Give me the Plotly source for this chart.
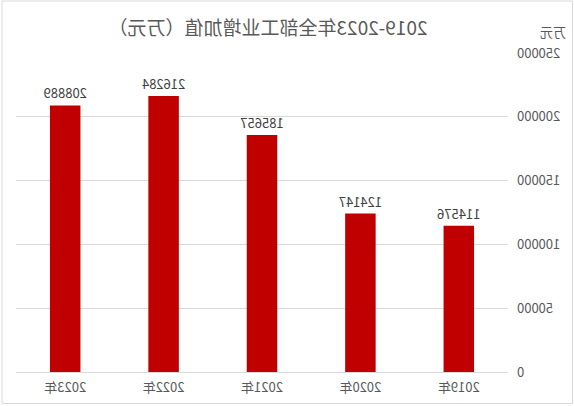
import plotly.graph_objects as go

categories = ["2019年", "2020年", "2021年", "2022年", "2023年"]
values = [114576, 124147, 185657, 216284, 208889]
title_text = "2019-2023年全部工业增加值（万元）"
unit_text = "万元"
tick_vals = [0, 50000, 100000, 150000, 200000, 250000]
tick_text = [str(v) for v in tick_vals]

W, H = 574, 406
L, R, T, B = 66, 16, 53, 34
pw, ph = W - L - R, H - T - B

def px(x):
    return (x - L) / pw

def py(y):
    return (H - B - y) / ph

font_family = "Noto Sans CJK SC, Noto Sans, sans-serif"

fig = go.Figure(go.Bar(
    x=categories, y=values,
    marker=dict(color="#C00000", line=dict(width=0)),
    text=[str(v) for v in values], textposition="outside",
    textfont=dict(size=13, color="#404040", family=font_family),
    constraintext="none",
    cliponaxis=False,
))

fig.update_layout(
    width=W, height=H,
    margin=dict(l=L, r=R, t=T, b=B),
    paper_bgcolor="white", plot_bgcolor="white",
    bargap=0.69,
    showlegend=False,
    font=dict(family=font_family, color="#595959"),
    title=dict(text=title_text, xref="container", x=306 / W, xanchor="center",
               y=1 - 28 / H, yanchor="middle",
               font=dict(size=19, color="#595959", family=font_family)),
    xaxis=dict(showgrid=False, showline=True, linecolor="#D9D9D9", linewidth=1,
               ticks="", tickfont=dict(size=13, color="#595959"), automargin=False,
               ticklabelstandoff=3),
    yaxis=dict(range=[0, 250000], tickvals=tick_vals, ticktext=tick_text,
               showgrid=True, gridcolor="#D9D9D9",
               gridwidth=1, zeroline=False, showline=False, ticks="",
               tickfont=dict(size=13, color="#595959"), ticklabelstandoff=8,
               automargin=False),
    annotations=[dict(text=unit_text, x=px(21), y=py(32), xref="paper", yref="paper",
                      showarrow=False, xanchor="center", yanchor="middle",
                      font=dict(size=13, color="#595959"))],
    shapes=[dict(type="rect", xref="paper", yref="paper",
                 x0=px(1.5), x1=px(572), y0=py(403.5), y1=py(1),
                 line=dict(color="#D9D9D9", width=1), layer="below")],
)

fig.write_html("out.html", config={"displayModeBar": False}, post_script=(
    "document.body.style.margin='0';"
    "var d=document.getElementById('{plot_id}');"
    "d.style.transform='scaleX(-1)';"
))
